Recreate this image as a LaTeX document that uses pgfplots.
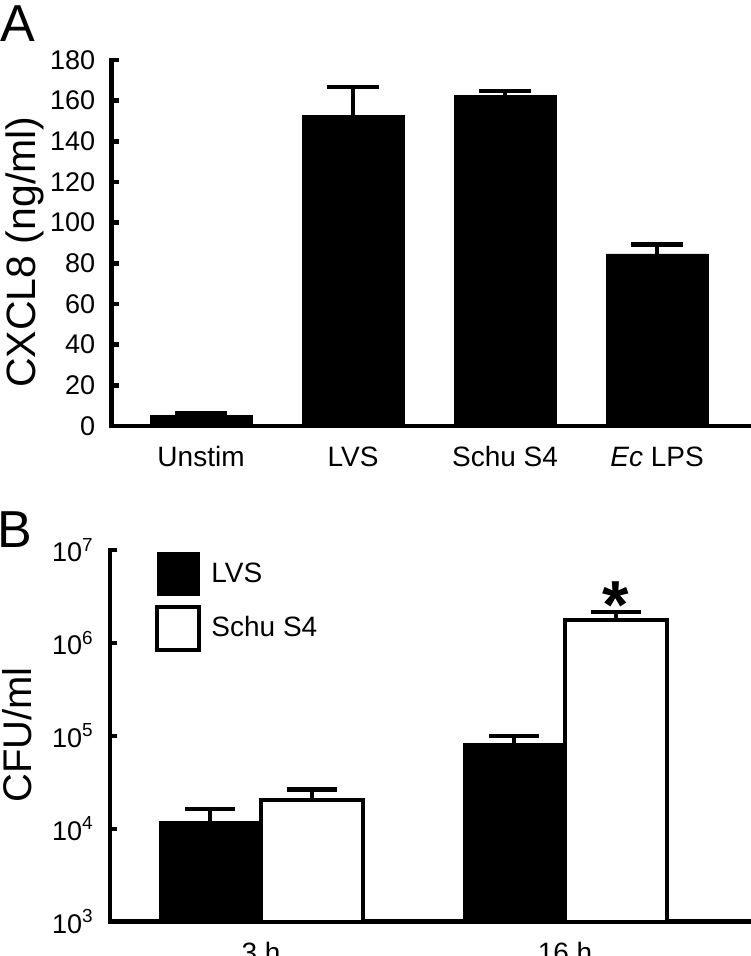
\documentclass[border=0pt]{standalone}
\usepackage{fontspec}
\setmainfont{Liberation Sans}
\usepackage{pgfplots}
\pgfplotsset{compat=1.18}

% panel A: CXCL8 (ng/ml), mean and upper error
\pgfplotstableread{
x y e
0 5.4 1.0
1 152.6 14.1
2 162.6 2.0
3 84.6 4.6
}\cxcl

% panel B: CFU/ml at 3 h (0) and 16 h (1)
\pgfplotstableread{
x y e
0 11900 4500
1 83000 16000
}\lvs
\pgfplotstableread{
x y e
0 20300 6100
1 1780000 380000
}\schu

\pgfplotsset{
  panel/.style={
    scale only axis, anchor=south west, clip=false,
    axis x line*=bottom, axis y line*=left,
    axis line style={line width=2.4pt, line cap=rect},
    tick align=inside, major tick length=3.5pt,
    ytick style={line width=2.2pt, black},
    xtick style={draw=none},
    yticklabel style={font=\fontsize{13.5}{14}\selectfont, inner sep=0pt, xshift=-8pt},
    xticklabel style={font=\fontsize{14}{14}\selectfont, anchor=base, inner sep=0pt, yshift=-17pt},
    /pgf/number format/assume math mode=true,
    ybar, bar width=51pt,
    error bars/error bar style={line width=2.2pt, black},
    error bars/error mark=|,
  },
}

\begin{document}
\begin{tikzpicture}
\useasboundingbox (0pt,0pt) rectangle (375pt,478pt);
\node[anchor=base west, inner sep=0pt, font=\fontsize{26}{26}\selectfont] at (0pt,457pt) {A};
\node[anchor=base west, inner sep=0pt, font=\fontsize{26}{26}\selectfont] at (-1.5pt,204pt) {B};

\begin{axis}[panel,
  at={(55.75pt,265pt)}, width=318.75pt, height=183pt,
  xmin=-0.589, xmax=3.605, ymin=0, ymax=180,
  ytick={0,20,...,180},
  xtick={0,1,2,3},
  xticklabels={Unstim, LVS, Schu S4, \textit{Ec} LPS},
  ylabel={CXCL8 (ng/ml)},
  every axis y label/.style={at={(rel axis cs:-0.167,0.475)}, rotate=90,
    anchor=north, inner sep=0pt, font=\fontsize{20.5}{21}\selectfont},
  error bars/error mark options={line width=2.2pt, mark size=13pt, black},
]
\addplot[fill=black, draw=black, line width=0.4pt,
  error bars/.cd, y dir=plus, y explicit]
  table[x=x, y=y, y error=e] {\cxcl};
\end{axis}

\begin{axis}[panel,
  at={(55pt,17.15pt)}, width=319.5pt, height=185.85pt,
  ymode=log, log origin=infty, yminorticks=false,
  xmin=-0.497, xmax=1.605, ymin=1e3, ymax=1e7,
  ytick={1e3,1e4,1e5,1e6,1e7},
  yticklabels={10\textsuperscript{3},10\textsuperscript{4},10\textsuperscript{5},10\textsuperscript{6},10\textsuperscript{7}},
  xtick={0,1},
  xticklabels={3 h, 16 h},
  ybar=0pt,
  ylabel={CFU/ml},
  every axis y label/.style={at={(rel axis cs:-0.169,0.502)}, rotate=90,
    anchor=north, inner sep=0pt, font=\fontsize{20}{21}\selectfont},
  error bars/error mark options={line width=2.2pt, mark size=12.5pt, black},
  legend style={at={(rel axis cs:0.0712,0.9946)}, anchor=north west,
    draw=none, fill=none, inner sep=0pt, outer sep=0pt, row sep=4.5pt,
    font=\fontsize{14}{14}\selectfont, nodes={inner sep=0pt}},
  legend cell align=left,
  legend image code/.code={\draw[#1] (0pt,-10.75pt) rectangle (21pt,10.75pt); \path (26pt,0pt);},
]
\addplot[fill=black, draw=black, line width=0.4pt,
  error bars/.cd, y dir=plus, y explicit]
  table[x=x, y=y, y error=e] {\lvs};
\addlegendentry{LVS}
\addplot[fill=white, draw=black, line width=2pt,
  error bars/.cd, y dir=plus, y explicit]
  table[x=x, y=y, y error=e] {\schu};
\addlegendentry{Schu S4}
\node[anchor=base, inner sep=0pt, xshift=25.5pt, font=\fontsize{34}{34}\bfseries]
  at (axis cs:1,1.42e6) {*};
\end{axis}
\end{tikzpicture}
\end{document}
